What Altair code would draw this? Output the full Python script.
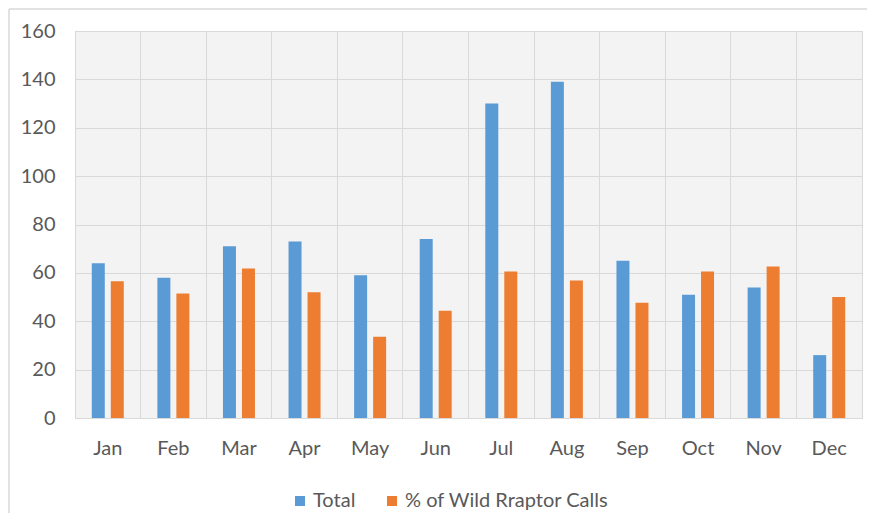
import altair as alt
import pandas as pd

months = ["Jan", "Feb", "Mar", "Apr", "May", "Jun", "Jul", "Aug", "Sep", "Oct", "Nov", "Dec"]
total = [64, 58, 71, 73, 59, 74, 130, 139, 65, 51, 54, 26]
wild_pct = [56.5, 51.5, 61.8, 52, 33.6, 44.3, 60.6, 56.8, 47.7, 60.6, 62.6, 50]
series_names = ["Total", "% of Wild Rraptor Calls"]
series_colors = ["#5B9BD5", "#ED7D31"]

rows = []
for m, t, w in zip(months, total, wild_pct):
    rows.append({"month": m, "series": series_names[0], "value": t})
    rows.append({"month": m, "series": series_names[1], "value": w})
df = pd.DataFrame(rows)

FONT = "Lato"
TXT = "#595959"

bars = alt.Chart(df).mark_bar().encode(
    x=alt.X("month:N", sort=months, title=None,
            scale=alt.Scale(paddingInner=0, paddingOuter=0),
            axis=alt.Axis(bandPosition=0, grid=True, gridColor="#d9d9d9", gridWidth=1,
                          ticks=False, tickSize=0, domain=False, labelAngle=0,
                          labelFont=FONT, labelFontSize=20, labelColor=TXT,
                          labelPadding=20, labelAlign="center", labelBaseline="top")),
    xOffset=alt.XOffset("series:N", sort=series_names,
                        scale=alt.Scale(paddingInner=0.316, paddingOuter=0.884)),
    y=alt.Y("value:Q", title=None,
            scale=alt.Scale(domain=[0, 160], nice=False),
            axis=alt.Axis(values=list(range(0, 161, 20)), grid=True, gridColor="#d9d9d9",
                          gridWidth=1, ticks=False, tickSize=0, domain=False,
                          labelFont=FONT, labelFontSize=20, labelColor=TXT, labelPadding=20)),
    color=alt.Color("series:N", sort=series_names,
                    scale=alt.Scale(domain=series_names, range=series_colors),
                    legend=alt.Legend(title=None, orient="none", direction="horizontal",
                                      legendX=215, legendY=460, symbolType="square",
                                      symbolSize=100, symbolStrokeWidth=0,
                                      labelFont=FONT, labelFontSize=20, labelColor=TXT,
                                      labelLimit=0, labelOffset=3, columnPadding=26,
                                      padding=0)),
)

frame_top = alt.Chart(alt.Data(values=[{}])).mark_rule(
    stroke="#d9d9d9", strokeWidth=1.5
).encode(x=alt.value(-66), x2=alt.value(804), y=alt.value(-22))

frame_left = alt.Chart(alt.Data(values=[{}])).mark_rule(
    stroke="#d9d9d9", strokeWidth=1.5
).encode(x=alt.value(-66), y=alt.value(-22), y2=alt.value(482))

chart = alt.layer(frame_top, frame_left, bars).properties(
    width=787, height=387,
    autosize=alt.AutoSizeParams(type="none"),
    padding={"left": 67, "top": 23, "right": 5, "bottom": 95},
    background="white",
).configure_view(
    stroke="#d9d9d9", strokeWidth=1, fill="#f3f3f3"
)

chart.save("out.html", embed_options={"renderer": "svg", "actions": False})
